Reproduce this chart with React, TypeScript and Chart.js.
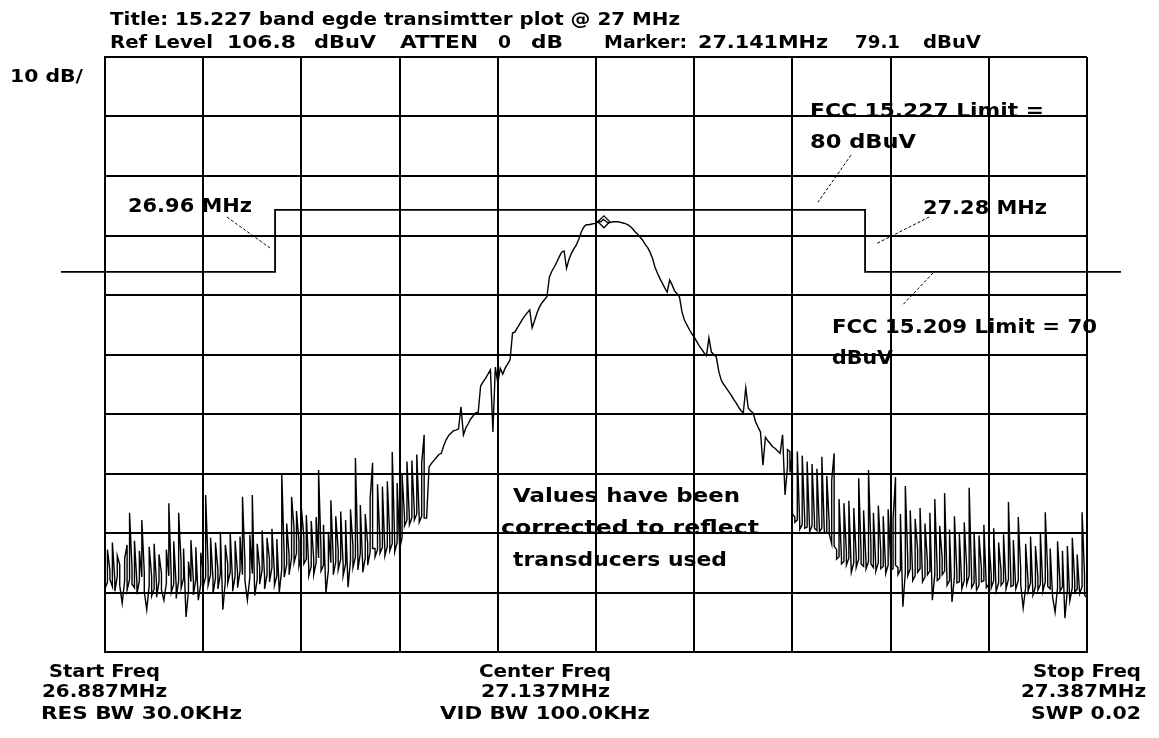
import React, { useEffect, useRef } from "react";
import { Chart, registerables } from "chart.js";

Chart.register(...registerables);

// Sweep
const START_MHZ = 26.887;
const STOP_MHZ = 27.387;

// Trace levels (dBuV, peak per sweep point) from START_MHZ to STOP_MHZ
const LEVELS_DBUV = [
  19.5, 24.0, 20.5, 25.2, 19.0, 23.0, 21.5, 15.0, 22.5, 24.8,
  30.2, 21.0, 25.5, 18.5, 23.8, 29.0, 20.2, 13.9, 24.5, 19.5,
  25.0, 18.2, 23.2, 20.0, 15.5, 24.0, 31.8, 19.2, 25.4, 18.0,
  30.2, 21.8, 24.2, 12.7, 22.0, 25.6, 18.8, 24.4, 15.5, 23.5,
  20.4, 33.2, 21.2, 26.0, 19.0, 25.2, 20.6, 27.0, 13.9, 24.8,
  21.5, 26.8, 18.4, 25.5, 20.0, 26.2, 32.9, 22.0, 15.5, 26.5,
  33.2, 16.3, 25.0, 21.0, 27.2, 19.5, 26.0, 22.4, 27.5, 20.2,
  25.8, 16.8, 36.9, 22.8, 28.4, 23.0, 32.9, 27.6, 30.5, 25.5,
  31.0, 26.2, 29.8, 21.0, 28.8, 22.5, 29.5, 37.4, 23.8, 28.2,
  16.7, 27.0, 32.3, 22.2, 29.6, 24.0, 30.4, 21.5, 29.0, 17.7,
  30.8, 24.6, 39.4, 23.2, 31.5, 21.0, 30.0, 25.0, 32.6, 38.6,
  24.2, 35.0, 25.5, 34.6, 23.9, 35.5, 26.0, 40.4, 25.2, 35.2,
  24.6, 36.8, 29.5, 38.8, 29.0, 39.0, 30.5, 40.0, 29.4, 38.5,
  43.3, 29.3, 37.9, 38.5, 39.0, 39.5, 40.0, 40.2, 41.5, 42.5,
  43.2, 43.6, 44.0, 44.1, 44.3, 48.0, 43.3, 44.5, 45.2, 46.0,
  46.5, 47.0, 47.0, 51.5, 52.2, 52.8, 53.5, 54.2, 43.8, 54.7,
  52.0, 54.5, 53.5, 54.5, 55.2, 55.9, 60.4, 60.6, 61.3, 62.0,
  62.7, 63.3, 63.8, 64.3, 61.3, 62.5, 63.8, 64.8, 65.5, 66.0,
  66.5, 69.8, 70.8, 71.5, 72.3, 73.2, 74.0, 74.2, 71.3, 72.8,
  73.8, 74.6, 75.2, 76.2, 77.4, 78.2, 78.6, 78.6, 78.7, 78.8,
  78.8, 79.2, 79.1, 79.5, 79.2, 78.9, 79.0, 79.1, 79.1, 79.1,
  79.0, 78.9, 78.8, 78.6, 78.3, 77.9, 77.4, 77.0, 76.5, 76.0,
  75.3, 74.8, 74.0, 73.0, 71.5, 70.5, 69.6, 68.8, 68.0, 67.3,
  69.3, 68.5, 67.5, 67.0, 66.5, 64.0, 62.6, 61.8, 61.0, 60.3,
  59.7, 59.0, 58.3, 57.7, 57.1, 56.6, 59.6, 57.2, 56.8, 56.4,
  54.0, 52.5, 51.8, 51.2, 50.6, 50.0, 49.3, 48.7, 48.0, 47.4,
  47.0, 51.2, 47.8, 47.3, 47.0, 45.5, 44.6, 43.8, 38.2, 42.9,
  42.3, 41.8, 41.3, 41.0, 40.6, 40.2, 43.3, 33.2, 40.8, 40.5,
  40.2, 29.5, 40.5, 28.0, 39.8, 29.2, 38.8, 27.5, 38.4, 28.8,
  37.6, 27.6, 39.6, 27.2, 36.4, 28.4, 35.6, 40.2, 24.0, 32.5,
  22.5, 31.8, 23.6, 32.2, 20.2, 31.0, 22.8, 36.0, 23.2, 30.6,
  21.8, 37.4, 24.5, 30.2, 21.0, 31.4, 23.6, 29.6, 20.6, 30.8,
  22.4, 29.0, 36.2, 21.0, 30.0, 14.4, 34.7, 22.2, 30.6, 19.5,
  29.2, 24.0, 31.0, 19.0, 28.4, 22.0, 30.2, 15.5, 32.5, 20.5,
  28.0, 22.6, 33.5, 18.6, 27.4, 15.2, 29.6, 20.2, 26.8, 18.0,
  28.6, 21.0, 34.4, 19.4, 27.0, 17.2, 26.4, 20.8, 28.2, 17.6,
  25.8, 19.8, 27.6, 17.0, 25.2, 20.4, 26.6, 18.2, 32.0, 19.0,
  25.6, 17.4, 29.5, 20.6, 14.2, 25.0, 18.6, 26.2, 16.4, 24.6,
  19.4, 26.8, 17.8, 30.3, 20.0, 24.2, 16.0, 13.5, 25.4, 18.4,
  23.8, 12.5, 24.6, 15.4, 26.0, 18.8, 23.2, 16.6, 30.3, 19.6,
  15.9,
];

// Noise-floor minima (dBuV) per sweep point, left noisy part (from point 0)
const LOW_LEFT_DBUV = [
  17.5, 18.5, 19.0, 17.8, 17.0, 19.5, 18.0, 15.0, 18.8, 17.2,
  19.0, 18.2, 17.6, 16.5, 18.8, 19.4, 17.0, 13.9, 18.0, 16.2,
  17.4, 16.0, 18.6, 17.2, 15.5, 18.4, 19.6, 16.8, 18.2, 15.8,
  18.8, 17.5, 19.2, 12.7, 17.0, 18.6, 16.4, 19.0, 15.5, 18.2,
  17.8, 19.4, 18.0, 19.8, 16.6, 19.2, 17.4, 20.0, 13.9, 18.6,
  18.4, 20.2, 17.0, 19.6, 17.6, 20.4, 19.8, 18.8, 15.5, 19.4,
  20.0, 16.3, 19.0, 18.2, 20.6, 17.4, 19.8, 18.6, 21.0, 18.0,
  19.6, 16.8, 20.8, 19.4, 21.5, 19.8, 22.6, 21.8, 23.4, 21.2,
  23.0, 21.6, 22.4, 19.6, 21.2, 19.8, 21.8, 22.6, 20.4, 21.4,
  16.7, 20.6, 21.8, 19.8, 22.0, 20.6, 22.4, 19.6, 21.6, 17.7,
  22.2, 21.0, 22.8, 20.6, 23.4, 20.2, 22.6, 21.4, 23.6, 24.2,
  22.8, 24.0, 23.4, 24.4, 23.0, 24.6, 23.8, 25.0, 23.6, 25.2,
  24.0, 26.0, 28.0, 29.0, 28.2, 29.4, 29.0, 30.0, 28.6, 29.6,
  29.3, 29.3,
];

// Noise-floor minima (dBuV) per sweep point, right noisy part (from point 277)
const LOW_RIGHT_FROM = 277;
const LOW_RIGHT_DBUV = [
  33.2, 38.0, 37.0,
  30.0, 28.6, 29.0, 27.4, 28.2, 27.6, 27.8, 27.0, 28.0, 27.6,
  27.2, 27.0, 27.6, 26.8, 27.0, 26.6, 25.0, 24.6, 22.4, 22.8,
  21.6, 22.0, 21.4, 22.6, 20.2, 21.8, 21.0, 22.4, 21.6, 21.2,
  20.8, 22.0, 21.6, 21.0, 20.4, 21.8, 20.8, 21.2, 20.0, 21.4,
  20.6, 20.8, 21.4, 19.8, 20.6, 14.4, 20.2, 19.6, 20.8, 18.8,
  19.6, 20.2, 20.8, 18.6, 19.4, 19.8, 20.4, 15.5, 19.8, 18.8,
  19.2, 19.8, 20.4, 18.0, 18.8, 15.2, 19.4, 18.4, 18.6, 17.4,
  18.8, 18.2, 19.6, 17.6, 18.4, 17.2, 18.0, 18.6, 18.8, 17.6,
  18.2, 17.6, 18.8, 17.0, 18.4, 18.0, 18.6, 17.4, 19.0, 17.8,
  18.0, 17.4, 18.8, 18.2, 14.2, 17.6, 17.0, 18.4, 16.4, 17.8,
  17.2, 18.2, 17.0, 18.6, 17.8, 17.4, 16.0, 13.5, 17.6, 17.0,
  17.8, 12.5, 17.2, 15.4, 17.6, 16.8, 17.4, 16.6, 17.8, 16.4,
  15.9,
];

// Grid (10 divisions each way)
const X_GRID_MHZ = [26.887, 26.937, 26.987, 27.037, 27.087, 27.137, 27.187, 27.237, 27.287, 27.337, 27.387];
const Y_GRID_DBUV = [6.8, 16.8, 26.8, 36.8, 46.8, 56.8, 66.8, 76.8, 86.8, 96.8, 106.8];

// FCC limit line (step)
const LIMIT_MHZ = [26.8646, 26.9736, 26.9736, 27.274, 27.274, 27.4043];
const LIMIT_DBUV = [70.7, 70.7, 81.1, 81.1, 70.7, 70.7];

// Marker
const MARKER_MHZ = [27.141];
const MARKER_DBUV = [79.1];

// Leader lines for annotations: [fromMHz, fromdBuV, toMHz, todBuV]
const LEADERS = [
  [26.9491, 79.9, 26.971, 74.7],
  [27.3066, 79.9, 27.2796, 75.4],
  [27.2668, 90.3, 27.25, 82.4],
  [27.3086, 70.5, 27.2928, 65.0],
];

type T = { text: string; x: number; y: number; w: number; size?: number };
const TEXTS: T[] = [
  { text: "Title: 15.227 band egde transimtter plot @ 27 MHz", x: 110, y: 25, w: 570 },
  { text: "Ref Level", x: 110, y: 48, w: 103 },
  { text: "106.8", x: 227, y: 48, w: 69 },
  { text: "dBuV", x: 314, y: 48, w: 62 },
  { text: "ATTEN", x: 400, y: 48, w: 78 },
  { text: "0", x: 498, y: 48, w: 13 },
  { text: "dB", x: 531, y: 48, w: 32 },
  { text: "Marker:", x: 604, y: 48, w: 83 },
  { text: "27.141MHz", x: 698, y: 48, w: 130 },
  { text: "79.1", x: 855, y: 48, w: 45 },
  { text: "dBuV", x: 923, y: 48, w: 58 },
  { text: "10 dB/", x: 10, y: 82, w: 73 },
  { text: "FCC 15.227 Limit =", x: 810, y: 117, w: 234, size: 19 },
  { text: "80 dBuV", x: 810, y: 148, w: 106, size: 19 },
  { text: "26.96 MHz", x: 128, y: 212, w: 124, size: 19 },
  { text: "27.28 MHz", x: 923, y: 214, w: 124, size: 19 },
  { text: "FCC 15.209 Limit = 70", x: 832, y: 333, w: 265, size: 19 },
  { text: "dBuV", x: 832, y: 364, w: 61, size: 19 },
  { text: "Values have been", x: 513, y: 502, w: 227, size: 19 },
  { text: "corrected to reflect", x: 501, y: 534, w: 258, size: 19 },
  { text: "transducers used", x: 513, y: 566, w: 214, size: 19 },
  { text: "Start Freq", x: 49, y: 677, w: 111 },
  { text: "26.887MHz", x: 42, y: 697, w: 125 },
  { text: "RES BW 30.0KHz", x: 41, y: 719, w: 201 },
  { text: "Center Freq", x: 479, y: 677, w: 132 },
  { text: "27.137MHz", x: 481, y: 697, w: 129 },
  { text: "VID BW 100.0KHz", x: 440, y: 719, w: 210 },
  { text: "Stop Freq", x: 1033, y: 677, w: 108 },
  { text: "27.387MHz", x: 1021, y: 697, w: 125 },
  { text: "SWP 0.02", x: 1031, y: 719, w: 110 },
];

function drawText(ctx: CanvasRenderingContext2D, t: T) {
  ctx.save();
  ctx.font = `bold ${t.size || 18}px "DejaVu Sans"`;
  ctx.fillStyle = "#000";
  ctx.textBaseline = "alphabetic";
  ctx.textAlign = "left";
  const m = ctx.measureText(t.text).width;
  const sx = m > 0 ? t.w / m : 1;
  ctx.translate(t.x, t.y);
  ctx.scale(sx, 1);
  ctx.fillText(t.text, 0, 0);
  ctx.restore();
}

const overlay = {
  id: "overlay",
  afterDatasetsDraw(chart: any) {
    const { ctx, scales } = chart;
    const xs = scales.x;
    const ys = scales.y;
    ctx.save();
    ctx.strokeStyle = "#000";
    ctx.lineWidth = 1;
    ctx.setLineDash([3, 2]);
    LEADERS.forEach(([f1, d1, f2, d2]) => {
      ctx.beginPath();
      ctx.moveTo(xs.getPixelForValue(f1), ys.getPixelForValue(d1));
      ctx.lineTo(xs.getPixelForValue(f2), ys.getPixelForValue(d2));
      ctx.stroke();
    });
    ctx.restore();
    TEXTS.forEach((t) => drawText(ctx, t));
  },
};

export default function App() {
  const ref = useRef<HTMLCanvasElement | null>(null);
  useEffect(() => {
    if (!ref.current) return;
    const n = LEVELS_DBUV.length;
    const step = (STOP_MHZ - START_MHZ) / (n - 1);
    // min/max column per sweep point, visiting the nearer end first
    const trace: { x: number; y: number }[] = [];
    LEVELS_DBUV.forEach((v, i) => {
      const f = START_MHZ + i * step;
      let lo: number | undefined;
      if (i < LOW_LEFT_DBUV.length) lo = LOW_LEFT_DBUV[i];
      else if (i >= LOW_RIGHT_FROM) lo = LOW_RIGHT_DBUV[i - LOW_RIGHT_FROM];
      if (lo === undefined || lo >= v) {
        trace.push({ x: f, y: v });
        return;
      }
      const last = trace.length ? trace[trace.length - 1].y : v;
      if (Math.abs(last - lo) < Math.abs(last - v)) {
        trace.push({ x: f, y: lo });
        trace.push({ x: f, y: v });
      } else {
        trace.push({ x: f, y: v });
        trace.push({ x: f, y: lo });
      }
    });
    const limit = LIMIT_MHZ.map((f, i) => ({ x: f, y: LIMIT_DBUV[i] }));
    const marker = MARKER_MHZ.map((f, i) => ({ x: f, y: MARKER_DBUV[i] }));
    const gridOpts = { color: "#000", lineWidth: 2, drawTicks: false };
    const chart = new Chart(ref.current, {
      type: "line",
      data: {
        datasets: [
          {
            data: limit,
            borderColor: "#000",
            borderWidth: 1.8,
            pointRadius: 0,
            tension: 0,
            clip: false,
          } as any,
          {
            data: trace,
            borderColor: "#000",
            borderWidth: 1.4,
            pointRadius: 0,
            tension: 0,
          } as any,
          {
            data: marker,
            showLine: false,
            pointStyle: "rectRot",
            pointRadius: 6,
            pointBorderWidth: 1.3,
            pointBorderColor: "#000",
            pointBackgroundColor: "rgba(0,0,0,0)",
          } as any,
        ],
      },
      options: {
        responsive: false,
        animation: false,
        events: [],
        layout: { padding: { left: 105, top: 57, right: 72, bottom: 86 } },
        plugins: {
          legend: { display: false },
          tooltip: { enabled: false },
          title: { display: false },
        },
        scales: {
          x: {
            type: "linear",
            min: START_MHZ,
            max: STOP_MHZ,
            afterBuildTicks: (s: any) => {
              s.ticks = X_GRID_MHZ.map((v) => ({ value: v }));
            },
            ticks: { display: false },
            grid: gridOpts,
            border: { display: true, color: "#000", width: 2 },
          },
          y: {
            type: "linear",
            min: Y_GRID_DBUV[0],
            max: Y_GRID_DBUV[Y_GRID_DBUV.length - 1],
            afterBuildTicks: (s: any) => {
              s.ticks = Y_GRID_DBUV.map((v) => ({ value: v }));
            },
            ticks: { display: false },
            grid: gridOpts,
            border: { display: true, color: "#000", width: 2 },
          },
        },
      },
      plugins: [overlay],
    });
    return () => chart.destroy();
  }, []);
  return (
    <div style={{ position: "fixed", left: 0, top: 0, width: 1159, height: 738, background: "#fff" }}>
      <canvas ref={ref} width={1159} height={738} style={{ display: "block" }} />
    </div>
  );
}
